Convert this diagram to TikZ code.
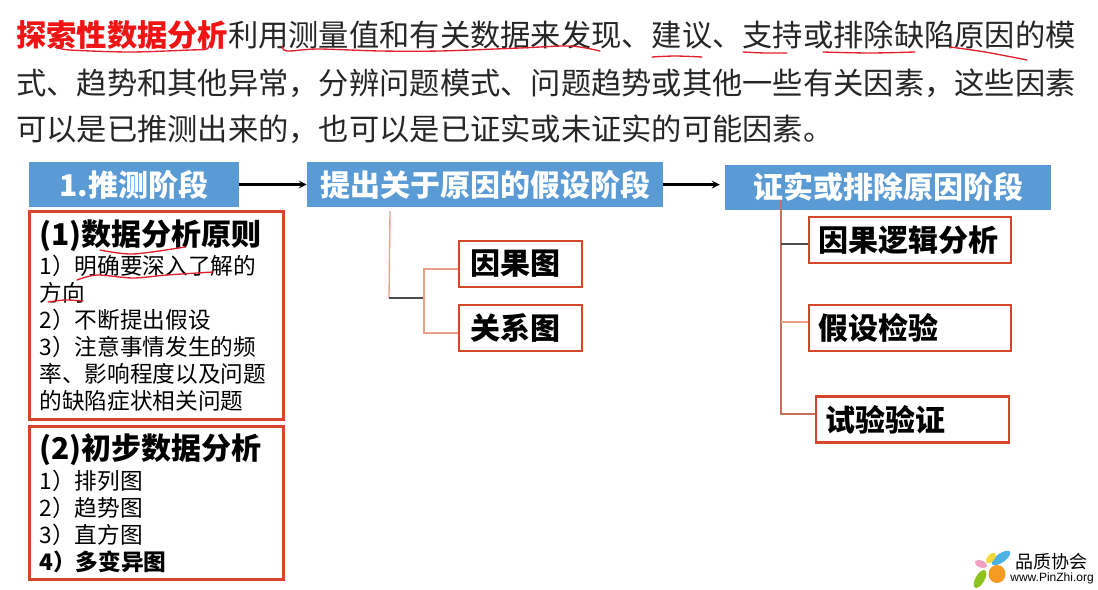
\documentclass[tikz,border=0pt]{standalone}
\usepackage{fontspec}
\setmainfont{Noto Sans CJK SC}
\newfontfamily\logofont{Liberation Sans}
\usepackage{tikz}
\definecolor{stageblue}{HTML}{5B9BD5}
\definecolor{boxred}{HTML}{D4472A}
\definecolor{inkred}{HTML}{E0202E}
\definecolor{titlered}{HTML}{F01414}
\definecolor{salmon}{HTML}{E8A088}
\definecolor{rust}{HTML}{C9705C}
\definecolor{petalorange}{HTML}{F59A23}
\definecolor{petalblue}{HTML}{4DB1E5}
\definecolor{petalyellow}{HTML}{F5D63D}
\definecolor{petalpink}{HTML}{F0A0C0}
\definecolor{petalgreen}{HTML}{8DC21F}
\def\px{0.75pt}
\tikzset{
        stage/.style={shape=rectangle, fill=stageblue, text=white, inner sep=0pt, minimum height=45*\px, font=\fontsize{22.5}{24}\selectfont\bfseries},
        topline/.style={anchor=west, inner sep=0pt, text=black!85, font=\fontsize{22.7}{26}\selectfont},
        group/.style={shape=rectangle, draw=boxred, line width=2.2pt, anchor=north west, inner xsep=10*\px, inner ysep=0pt, align=left, text width=234*\px, font=\fontsize{17}{20.25}\selectfont},
        method/.style={shape=rectangle, draw=boxred, line width=2.2pt, inner ysep=0pt, minimum height=46*\px, align=left, font=\fontsize{22.5}{24}\selectfont\bfseries},
        ink/.style={draw=inkred, line width=1pt, line cap=round},
        petal/.style={shape=ellipse, inner sep=0pt}
}
\usetikzlibrary{shapes.geometric}
\begin{document}
\begin{tikzpicture}[x=\px, y=-\px]
        \useasboundingbox (0, 0) rectangle (1098, 589);
        \node[topline] (L1) at (16, 35) {{\color{titlered}\bfseries 探索性数据分析}利用测量值和有关数据来发现、建议、支持或排除缺陷原因的模};
        \node[topline] (L2) at (16, 83) {式、趋势和其他异常，分辨问题模式、问题趋势或其他一些有关因素，这些因素};
        \node[topline] (L3) at (16, 129) {可以是已推测出来的，也可以是已证实或未证实的可能因素。};
        \node[stage, minimum width=210*\px] (B1) at (134, 184.5) {1.推测阶段};
        \node[stage, minimum width=356*\px] (B2) at (485, 184.5) {提出关于原因的假设阶段};
        \node[stage, minimum width=326*\px] (B3) at (888, 187.5) {证实或排除原因阶段};
        \node[group, minimum height=208*\px] (A1) at (28, 210) {\raisebox{1.5pt}{\fontsize{22.5}{30}\selectfont\bfseries (1)数据分析原则}\\
                1）明确要深入了解的\\方向\\2）不断提出假设\\3）注意事情发生的频\\率、影响程度以及问题\\的缺陷症状相关问题};
        \node[group, minimum height=153*\px] (A2) at (28, 425) {\raisebox{2pt}{\fontsize{22.5}{30}\selectfont\bfseries (2)初步数据分析}\\
                1）排列图\\2）趋势图\\3）直方图\\{\bfseries 4）多变异图}};
        \node[method, minimum width=123*\px, text width=100*\px] (C1) at (520.5, 264) {因果图};
        \node[method, minimum width=123*\px, text width=100*\px] (C2) at (520.5, 328) {关系图};
        \node[method, minimum width=202*\px, text width=184*\px] (D1) at (910, 240) {因果逻辑分析};
        \node[method, minimum width=202*\px, text width=184*\px] (D2) at (910, 328) {假设检验};
        \node[method, minimum width=193*\px, text width=175*\px] (D3) at (912.5, 419.5) {试验验证};
        \coordinate (T1) at (390, 211);
        \coordinate (J1) at (389, 298);
        \coordinate (J2) at (424, 298);
        \coordinate (T2) at (781, 200);
        \draw[-stealth, line width=1.6pt] (B1) to (B2);
        \draw[-stealth, line width=1.6pt, shorten >=5*\px] (B2.east) to (B3.west |- B2.east);
        \draw[salmon, line width=1pt] (T1) to (J1);
        \draw[black!70, line width=1pt] (J1) to (J2);
        \draw[salmon, line width=1pt] ([yshift=-5*\px]C1.west) -| (J2);
        \draw[salmon, line width=1pt] ([yshift=-5*\px]C2.west) -| (J2);
        \draw[rust, line width=1pt] (T2) |- ([yshift=5.5*\px]D3.west);
        \draw[black!70, line width=1pt] (T2 |- 0, 244) to ([yshift=-4*\px]D1.west);
        \draw[salmon, line width=1pt] (T2 |- 0, 322) to ([yshift=6*\px]D2.west);
        \draw[ink] plot[smooth] coordinates {(55, 47) (70, 50) (130, 52) (190, 50) (207, 49) (210, 42)};
        \draw[ink] plot[smooth] coordinates {(282, 46) (287, 51) (318, 49) (380, 51) (440, 51) (520, 48) (570, 46) (600, 51)};
        \draw[ink] plot[smooth] coordinates {(652, 57) (675, 56) (702, 57)};
        \draw[ink] plot[smooth] coordinates {(743, 52) (765, 53) (787, 53)};
        \draw[ink] plot[smooth] coordinates {(823, 52) (870, 53) (915, 52)};
        \draw[ink] plot[smooth] coordinates {(950, 47) (985, 52) (1027, 60)};
        \draw[ink] plot[smooth] coordinates {(100, 250) (133, 254) (185, 247)};
        \draw[ink] plot[smooth] coordinates {(77, 280) (97, 275) (133, 278) (167, 275) (213, 272)};
        \draw[ink] plot[smooth] coordinates {(48, 302) (65, 300) (83, 301)};
        \node[petal, fill=petalorange, minimum width=17*\px, minimum height=18*\px] (P1) at (997, 574) {};
        \node[petal, fill=petalblue, minimum width=22*\px, minimum height=9*\px, rotate=35] (P2) at (1001, 558) {};
        \node[petal, fill=petalyellow, minimum width=13*\px, minimum height=7*\px, rotate=50] (P3) at (991, 558) {};
        \node[petal, fill=petalpink, minimum width=13*\px, minimum height=7*\px, rotate=-20] (P4) at (981, 564) {};
        \node[petal, fill=petalgreen, minimum width=20*\px, minimum height=9*\px, rotate=60] (P5) at (980, 579) {};
        \node[inner sep=0pt, font=\fontsize{13.5}{15}\selectfont] (W1) at (1051, 562) {品质协会};
        \node[inner sep=0pt, font=\logofont\fontsize{9}{10}\selectfont] (W2) at (1052, 578) {www.PinZhi.org};
\end{tikzpicture}
\end{document}
